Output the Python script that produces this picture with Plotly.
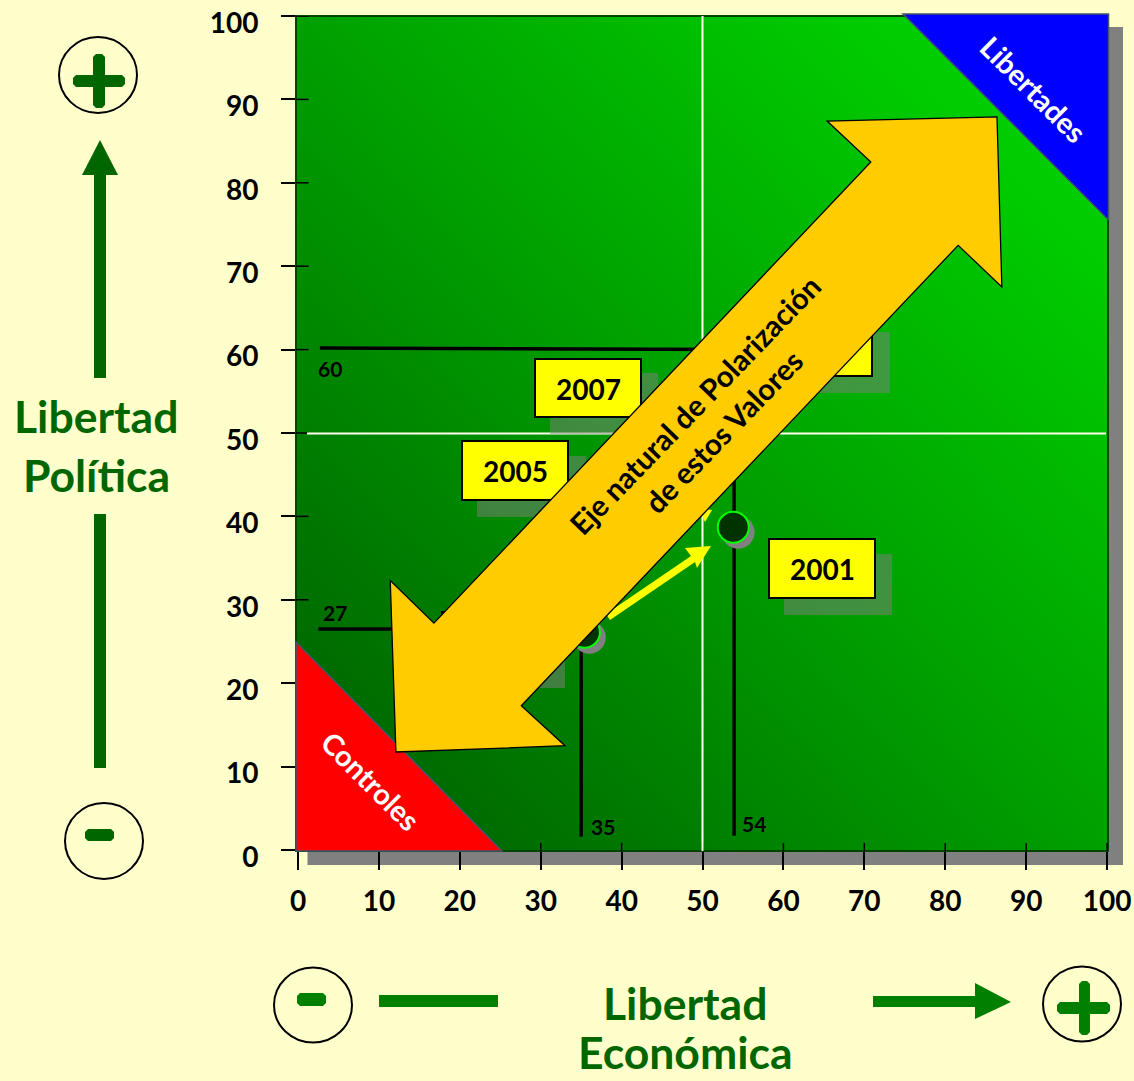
import plotly.graph_objects as go

W, H = 1134, 1081
BG = "#FFFFCC"
DARK = "#006600"
MID = "#007F00"
FONT = "Lato"

# ---- data ----
tick_values = [0, 10, 20, 30, 40, 50, 60, 70, 80, 90, 100]
tick_labels = [str(v) for v in tick_values]
econ_points = [35.4, 53.8]
poli_points = [26.1, 38.7]
h_ref_x = [[2.7, 54], [2.5, 35]]
h_ref_y = [[60.2, 60.0], [26.5, 26.5]]
v_ref_x = [[35, 35], [53.9, 53.9]]
v_ref_y = [[1.6, 26], [1.7, 60]]
axis_arrow_x = [86.4, 65.4, 70.8, 16.8, 11.4, 12.1, 33.0, 27.6, 81.6, 87.0]
axis_arrow_y = [87.9, 87.4, 82.5, 27.2, 32.3, 11.75, 12.5, 17.3, 72.5, 67.5]
bg_x = [-0.25, 100.12]
bg_y = [-0.12, 100.0]
bg_z = [[0, 1], [1, 2]]

# year boxes, in page pixels: x0, x1, y0, y1
year_boxes = [(442, 547, 612, 671), (767, 872, 317, 376), (535, 641, 359, 417),
              (462, 568, 441, 500), (769, 875, 539, 598)]
year_shadows = [(457, 565, 629, 688), (782, 890, 332, 393), (550, 658, 373, 434),
                (477, 586, 456, 517), (784, 892, 554, 615)]
year_texts = [("2007", 588, 389), ("2005", 515, 471), ("2001", 822, 569)]
ref_texts = [("60", 330, 369), ("27", 335, 612), ("35", 603, 826), ("54", 754, 823)]


def px(x):
    return x / W


def py(y):
    return 1 - y / H


def poly(points):
    return "M " + " L ".join(f"{px(a):.5f} {py(b):.5f}" for a, b in points) + " Z"


def paper_rect(x0, x1, y0, y1, fill, line=None, width=0, layer="above"):
    return dict(type="rect", xref="paper", yref="paper", x0=px(x0), x1=px(x1), y0=py(y1), y1=py(y0),
                fillcolor=fill, line=dict(color=line or fill, width=width), layer=layer)


def paper_poly(points, fill, line=None, width=0, layer="above"):
    return dict(type="path", xref="paper", yref="paper", path=poly(points), fillcolor=fill,
                line=dict(color=line or fill, width=width), layer=layer)


def round_bar(x0, x1, y0, y1, fill, r=3):
    pts = [(x0 + r, y0), (x1 - r, y0), (x1, y0 + r), (x1, y1 - r), (x1 - r, y1), (x0 + r, y1), (x0, y1 - r), (x0, y0 + r)]
    return paper_poly(pts, fill)


def paper_ellipse(cx, cy, rx, ry):
    return dict(type="circle", xref="paper", yref="paper", x0=px(cx - rx), x1=px(cx + rx), y0=py(cy + ry),
                y1=py(cy - ry), fillcolor="rgba(0,0,0,0)", line=dict(color="black", width=2), layer="above")


fig = go.Figure()
fig.add_trace(go.Heatmap(x=bg_x, y=bg_y, z=bg_z, zsmooth="best", showscale=False, hoverinfo="skip",
                         zmin=0, zmax=2,
                         colorscale=[[0, "#005A00"], [0.5, "#00A000"], [0.85, "#00CC00"], [1, "#00D700"]]))
for xs, ys in zip(h_ref_x + v_ref_x, h_ref_y + v_ref_y):
    fig.add_trace(go.Scatter(x=xs, y=ys, mode="lines", line=dict(color="black", width=3.5),
                             hoverinfo="skip", showlegend=False))
# offset drop shadow of the markers, then the markers
fig.add_trace(go.Scatter(x=[v + 0.6 for v in econ_points], y=[v - 0.6 for v in poli_points], mode="markers",
                         marker=dict(size=33, color="#808080"), hoverinfo="skip", showlegend=False))
fig.add_trace(go.Scatter(x=econ_points, y=poli_points, mode="markers",
                         marker=dict(size=31, color="#003300", line=dict(color="#00FF00", width=2)),
                         hoverinfo="skip", showlegend=False))

shapes = []
# drop shadow and frame of the plot
shapes.append(paper_rect(307.5, 1123, 27, 865, "#808080", layer="below"))
shapes.append(dict(type="rect", xref="paper", yref="paper", x0=px(296), x1=px(1108), y0=py(851), y1=py(16),
                   fillcolor="rgba(0,0,0,0)", line=dict(color="#004400", width=2), layer="above"))
# inner part of the crossing ticks
for v in tick_values:
    shapes.append(dict(type="line", x0=v, x1=v, y0=-0.12, y1=0.85, line=dict(color="black", width=1.5), layer="above"))
    shapes.append(dict(type="line", x0=-0.25, x1=1.3, y0=v, y1=v, line=dict(color="black", width=1.5), layer="above"))
# white quadrant lines
shapes.append(paper_rect(701.5, 703.5, 16, 851, "#FFFFE8"))
shapes.append(paper_rect(307, 1106, 432.5, 434.5, "#FFFFE8"))
for b in year_shadows:
    shapes.append(paper_rect(*b, "rgba(128,128,128,0.5)"))
for b in year_boxes:
    shapes.append(paper_rect(*b, "#FFFF00", "#000000", 2))
# yellow trend arrows
shapes.append(paper_poly([(606, 614), (691, 556), (685, 548), (711, 546), (697, 568), (695, 562), (610, 620)], "#FFFF00"))
shapes.append(paper_poly([(712, 510), (698, 508), (705, 522)], "#FFFF00"))
# corner triangles
shapes.append(paper_poly([(296, 642), (296, 851), (502, 851)], "#FF0000", "#44546A", 1.5))
shapes.append(paper_poly([(903, 14), (1108.5, 14), (1108.5, 220)], "#0000FF", "#44546A", 1.5))
# the large double arrow, in data units
path = "M " + " L ".join(f"{a} {b}" for a, b in zip(axis_arrow_x, axis_arrow_y)) + " Z"
shapes.append(dict(type="path", path=path, fillcolor="#FFCC00", line=dict(color="black", width=1.3), layer="above"))
# outer signs and arrows
shapes += [
    paper_ellipse(98, 75, 39, 38),
    round_bar(73, 125, 75, 87, DARK), round_bar(93, 105, 54, 108, DARK),
    paper_ellipse(104, 841, 39, 38),
    round_bar(85, 114, 829, 841, DARK),
    paper_ellipse(313, 1005, 39, 37.5),
    round_bar(297, 326, 993, 1006, MID),
    paper_ellipse(1082, 1004, 39, 37.5),
    round_bar(1057, 1110, 1002, 1014, MID), round_bar(1079, 1090, 981, 1035, MID),
    paper_rect(94, 106, 175, 378, DARK),
    paper_poly([(100, 140), (118, 175), (82, 175)], DARK),
    paper_rect(94, 106, 514, 768, DARK),
    paper_rect(379, 498, 995, 1007, MID),
    paper_rect(873, 975, 996, 1007, MID),
    paper_poly([(975, 983), (1011, 1002), (975, 1019)], MID),
]

ann = []


def label(text, x, y, size, color="black", angle=0):
    ann.append(dict(text=text, xref="paper", yref="paper", x=px(x), y=py(y), xanchor="center", yanchor="middle",
                    showarrow=False, textangle=angle, font=dict(family=FONT, size=size, color=color, weight=700)))


for t, x, y in year_texts:
    label(t, x, y, 28)
for t, x, y in ref_texts:
    label(t, x, y, 21)
label("Controles", 371, 780, 29, "white", 45)
label("Libertades", 1033, 89, 29, "white", 45)
label("Eje natural de Polarización", 694, 405, 29.5, "black", -46)
label("de estos Valores", 723, 431, 29.5, "black", -46)
label("Libertad", 96, 416, 44.5, DARK)
label("Política", 96, 474, 44.5, DARK)
label("Libertad", 685, 1002, 44.5, DARK)
label("Económica", 685, 1051, 44.5, DARK)

axis_common = dict(tickvals=tick_values, ticktext=tick_labels, showgrid=False, zeroline=False, showline=False,
                   ticks="outside", tickcolor="black", tickwidth=2, automargin=False, ticklabeloverflow="allow",
                   tickfont=dict(family=FONT, size=28, color="black", weight=700))
fig.update_layout(
    width=W, height=H, margin=dict(l=0, r=0, t=0, b=0), autosize=False,
    paper_bgcolor=BG, plot_bgcolor=BG, showlegend=False,
    xaxis=dict(domain=[px(296), px(1108)], range=bg_x, anchor="y", ticklen=18, ticklabelstandoff=7, **axis_common),
    yaxis=dict(domain=[py(851), py(16)], range=bg_y, anchor="x", ticklen=14, ticklabelstandoff=17,
               ticklabelshift=7, **axis_common),
    shapes=shapes, annotations=ann,
)
fig.write_html("out.html", config=dict(displayModeBar=False),
               post_script="document.body.style.margin='0';document.body.style.background='#FFFFCC';document.documentElement.style.overflow='hidden';")
